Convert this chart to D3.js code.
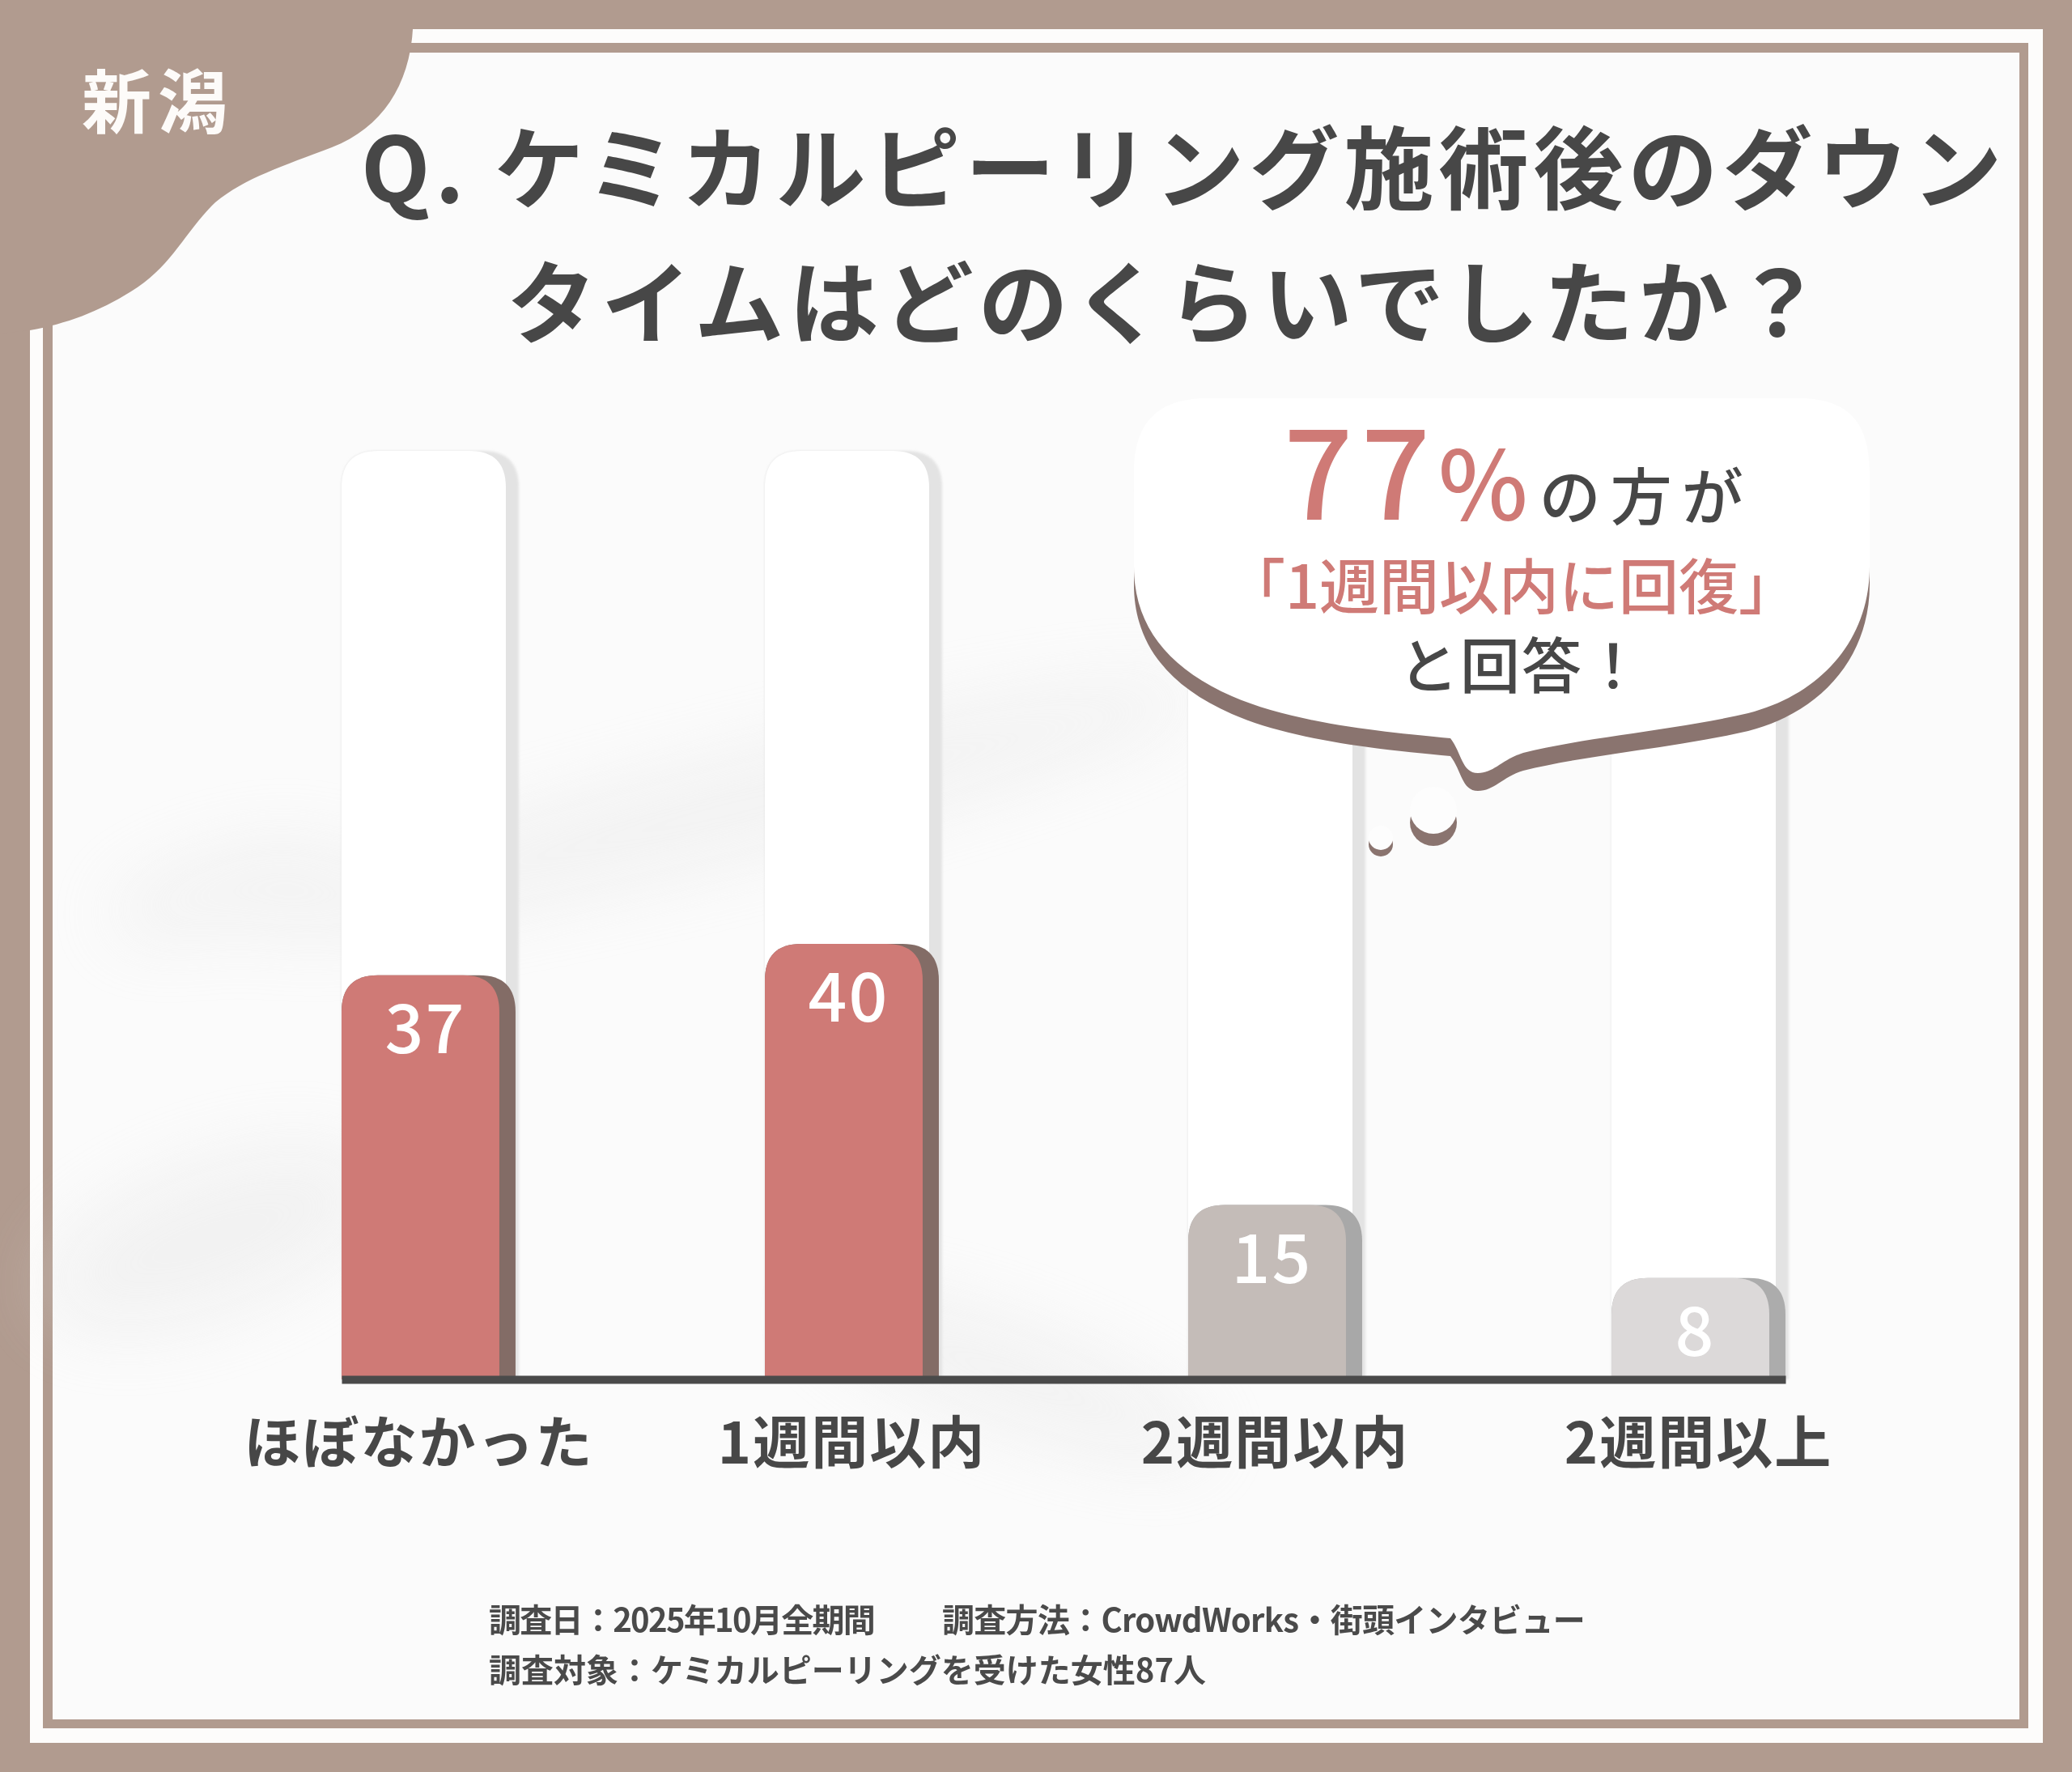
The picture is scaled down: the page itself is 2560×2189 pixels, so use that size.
<!DOCTYPE html>
<html>
<head>
<meta charset="utf-8">
<script src="https://cdn.jsdelivr.net/npm/d3@7"></script>
<style>
  body { margin: 0; background: #b19b8f; }
  svg { display: block; }
  text { font-family: "Noto Sans CJK JP", "Noto Sans", sans-serif; }
</style>
</head>
<body>
<div id="chart"></div>
<script>
// data
var categories = ["ほぼなかった", "1週間以内", "2週間以内", "2週間以上"];
var values = [37, 40, 15, 8];
var barColors = ["#cf7a76", "#cf7a76", "#c4bcb8", "#dcd9d9"];
var sideColors = ["#836c66", "#836c66", "#a8a8a8", "#acacac"];
var titleLines = ["Q. ケミカルピーリング施術後のダウン", "タイムはどのくらいでしたか？"];
var tagText = "新潟";
var noteLines = ["調査日：2025年10月全期間", "調査方法：CrowdWorks・街頭インタビュー", "調査対象：ケミカルピーリングを受けた女性87人"];

var svgWidth = 2560;
var svgHeight = 2189;

var svg = d3.select("#chart")
  .append("svg")
  .attr("width", svgWidth)
  .attr("height", svgHeight);

var defs = svg.append("defs");
defs.append("filter").attr("id", "soft").attr("x", "-50%").attr("y", "-50%").attr("width", "200%").attr("height", "200%")
  .append("feGaussianBlur").attr("stdDeviation", 45);
defs.append("filter").attr("id", "edge")
  .append("feGaussianBlur").attr("stdDeviation", 1.5);

// frame
svg.append("rect").attr("width", svgWidth).attr("height", svgHeight).attr("fill", "#b19b8f");
svg.append("rect").attr("x", 37).attr("y", 36).attr("width", 2487).attr("height", 2117).attr("fill", "#fdfcfb");
svg.append("rect").attr("x", 53).attr("y", 53).attr("width", 2453).attr("height", 2082).attr("fill", "#b19b8f");
svg.append("rect").attr("x", 65).attr("y", 65).attr("width", 2430).attr("height", 2059).attr("fill", "#fbfbfb");

// faint background smudges
var smudge = svg.append("g").attr("filter", "url(#soft)").attr("fill", "#e2e2e2").attr("opacity", 0.35);
smudge.append("ellipse").attr("cx", 900).attr("cy", 1000).attr("rx", 600).attr("ry", 60)
  .attr("transform", "rotate(-14 900 1000)");
smudge.append("ellipse").attr("cx", 260).attr("cy", 1530).attr("rx", 220).attr("ry", 90)
  .attr("transform", "rotate(-20 260 1530)");
smudge.append("ellipse").attr("cx", 280).attr("cy", 1100).attr("rx", 150).attr("ry", 45)
  .attr("transform", "rotate(-15 280 1100)");
smudge.append("ellipse").attr("cx", 1250).attr("cy", 1700).attr("rx", 260).attr("ry", 60)
  .attr("transform", "rotate(20 1250 1700)");

// corner tag
svg.append("path")
  .attr("d", "M0,0 H510 V36 C 506,105 472,158 410,182 C 350,205 302,220 266,250 C 230,284 212,330 162,360 C 122,385 82,400 37,408 L0,412 Z")
  .attr("fill", "#b19b8f");
svg.append("text")
  .attr("x", 101).attr("y", 158)
  .attr("font-size", 86).attr("font-weight", 700)
  .attr("letter-spacing", 8)
  .attr("fill", "#fdfbf9")
  .text(tagText);

// title
svg.append("text")
  .attr("x", 446).attr("y", 250)
  .attr("font-size", 111).attr("font-weight", 700)
  .attr("letter-spacing", 6)
  .attr("fill", "#474747")
  .text(titleLines[0]);
svg.append("text")
  .attr("x", 626).attr("y", 416)
  .attr("font-size", 111).attr("font-weight", 700)
  .attr("letter-spacing", 6)
  .attr("fill", "#474747")
  .text(titleLines[1]);

// scales
var baseY = 1704;
var x = d3.scaleBand()
  .domain(categories)
  .range([422, 2206])
  .paddingInner(0.589)
  .paddingOuter(0);

var y = d3.scaleLinear()
  .domain([0, 40])
  .range([1682, 1166]);

var bw = x.bandwidth();
var r = 45;

function topRounded(x0, y0, w, h, rad) {
  return "M" + x0 + "," + (y0 + h) +
    "V" + (y0 + rad) +
    "Q" + x0 + "," + y0 + " " + (x0 + rad) + "," + y0 +
    "H" + (x0 + w - rad) +
    "Q" + (x0 + w) + "," + y0 + " " + (x0 + w) + "," + (y0 + rad) +
    "V" + (y0 + h) + "Z";
}

var chartGroup = svg.append("g");

// background tracks
var trackTop = 557;
chartGroup.selectAll(".track-side")
  .data(categories)
  .enter()
  .append("path")
  .attr("class", "track-side")
  .attr("d", d => topRounded(x(d), trackTop, bw + 4, baseY - trackTop, r))
  .attr("fill", "#e3e3e3")
  .attr("filter", "url(#edge)");
chartGroup.selectAll(".track")
  .data(categories)
  .enter()
  .append("path")
  .attr("class", "track")
  .attr("d", d => topRounded(x(d), trackTop, bw - 12, baseY - trackTop, r))
  .attr("fill", "#ffffff");

// bars
chartGroup.selectAll(".bar-side")
  .data(values)
  .enter()
  .append("path")
  .attr("class", "bar-side")
  .attr("d", (d, i) => topRounded(x(categories[i]), y(d), bw, baseY - y(d), r))
  .attr("fill", (d, i) => sideColors[i]);
chartGroup.selectAll(".bar")
  .data(values)
  .enter()
  .append("path")
  .attr("class", "bar")
  .attr("d", (d, i) => topRounded(x(categories[i]), y(d), bw - 20, baseY - y(d), r))
  .attr("fill", (d, i) => barColors[i]);

// value labels
chartGroup.selectAll(".value")
  .data(values)
  .enter()
  .append("text")
  .attr("class", "value")
  .attr("x", (d, i) => x(categories[i]) + bw / 2 - 4)
  .attr("y", d => y(d) + 96)
  .attr("text-anchor", "middle")
  .attr("font-size", 84)
  .attr("font-weight", 500)
  .attr("letter-spacing", 2)
  .attr("fill", "#ffffff")
  .text(d => d);

// axis
var bottomAxis = d3.axisBottom(x).tickSize(0).tickSizeOuter(0);
var axisG = chartGroup.append("g")
  .attr("transform", `translate(0, ${baseY})`)
  .call(bottomAxis);
axisG.select(".domain")
  .attr("stroke", "#4a4a4a")
  .attr("stroke-width", 10);
axisG.selectAll(".tick text")
  .attr("y", 104)
  .attr("dy", null)
  .attr("dx", (d, i) => i === 0 ? -12 : 0)
  .attr("font-size", 70)
  .attr("font-weight", 700)
  .attr("letter-spacing", 2)
  .attr("font-family", "Noto Sans CJK JP")
  .attr("fill", "#474747");

// speech bubble
var bubblePath = "M1401,585 C1401,522 1430,492 1492,492 L2222,492 C2284,492 2310,522 2310,585 L2310,700 " +
  "C2310,790 2250,858 2160,881 C2070,902 1962,910 1882,930 C1856,938 1846,955 1826,955 " +
  "C1806,955 1806,930 1792,912 C1720,905 1602,895 1522,860 C1442,825 1401,772 1401,700 Z";
var bubble = svg.append("g");
bubble.append("path").attr("d", bubblePath).attr("fill", "#8a746f")
  .attr("transform", "translate(0,22)");
bubble.append("path").attr("d", bubblePath).attr("fill", "#ffffff");

// little thought dots
bubble.append("circle").attr("cx", 1771).attr("cy", 1016).attr("r", 29).attr("fill", "#8a746f");
bubble.append("circle").attr("cx", 1771).attr("cy", 1001).attr("r", 29).attr("fill", "#fdfdfd");
bubble.append("circle").attr("cx", 1706).attr("cy", 1043).attr("r", 15).attr("fill", "#8a746f");
bubble.append("circle").attr("cx", 1706).attr("cy", 1035).attr("r", 15).attr("fill", "#fdfdfd");

var line1 = bubble.append("text")
  .attr("x", 1586).attr("y", 642)
  .attr("font-weight", 500);
line1.append("tspan").attr("font-size", 150).attr("letter-spacing", 10).attr("fill", "#cf7a76").text("77");
line1.append("tspan").attr("font-size", 118).attr("fill", "#cf7a76").text("%");
line1.append("tspan").attr("dx", 14).attr("font-size", 76).attr("letter-spacing", 12).attr("fill", "#474747").text("の方が");

bubble.append("text")
  .attr("x", 1868).attr("y", 752)
  .attr("text-anchor", "middle")
  .attr("font-size", 74).attr("font-weight", 500)
  .attr("fill", "#cf7a76")
  .text("｢1週間以内に回復｣");

bubble.append("text")
  .attr("x", 1728).attr("y", 850)
  .attr("font-size", 74).attr("font-weight", 500)
  .attr("letter-spacing", 2)
  .attr("fill", "#474747")
  .text("と回答！");

// notes
var notes = svg.append("g")
  .attr("font-size", 40)
  .attr("font-weight", 700)
  .attr("fill", "#4a4a4a");
notes.append("text").attr("x", 604).attr("y", 2016).attr("letter-spacing", -1.7).text(noteLines[0]);
notes.append("text").attr("x", 1164).attr("y", 2016).attr("letter-spacing", -0.7).text(noteLines[1]);
notes.append("text").attr("x", 604).attr("y", 2078).text(noteLines[2]);
</script>
</body>
</html>
